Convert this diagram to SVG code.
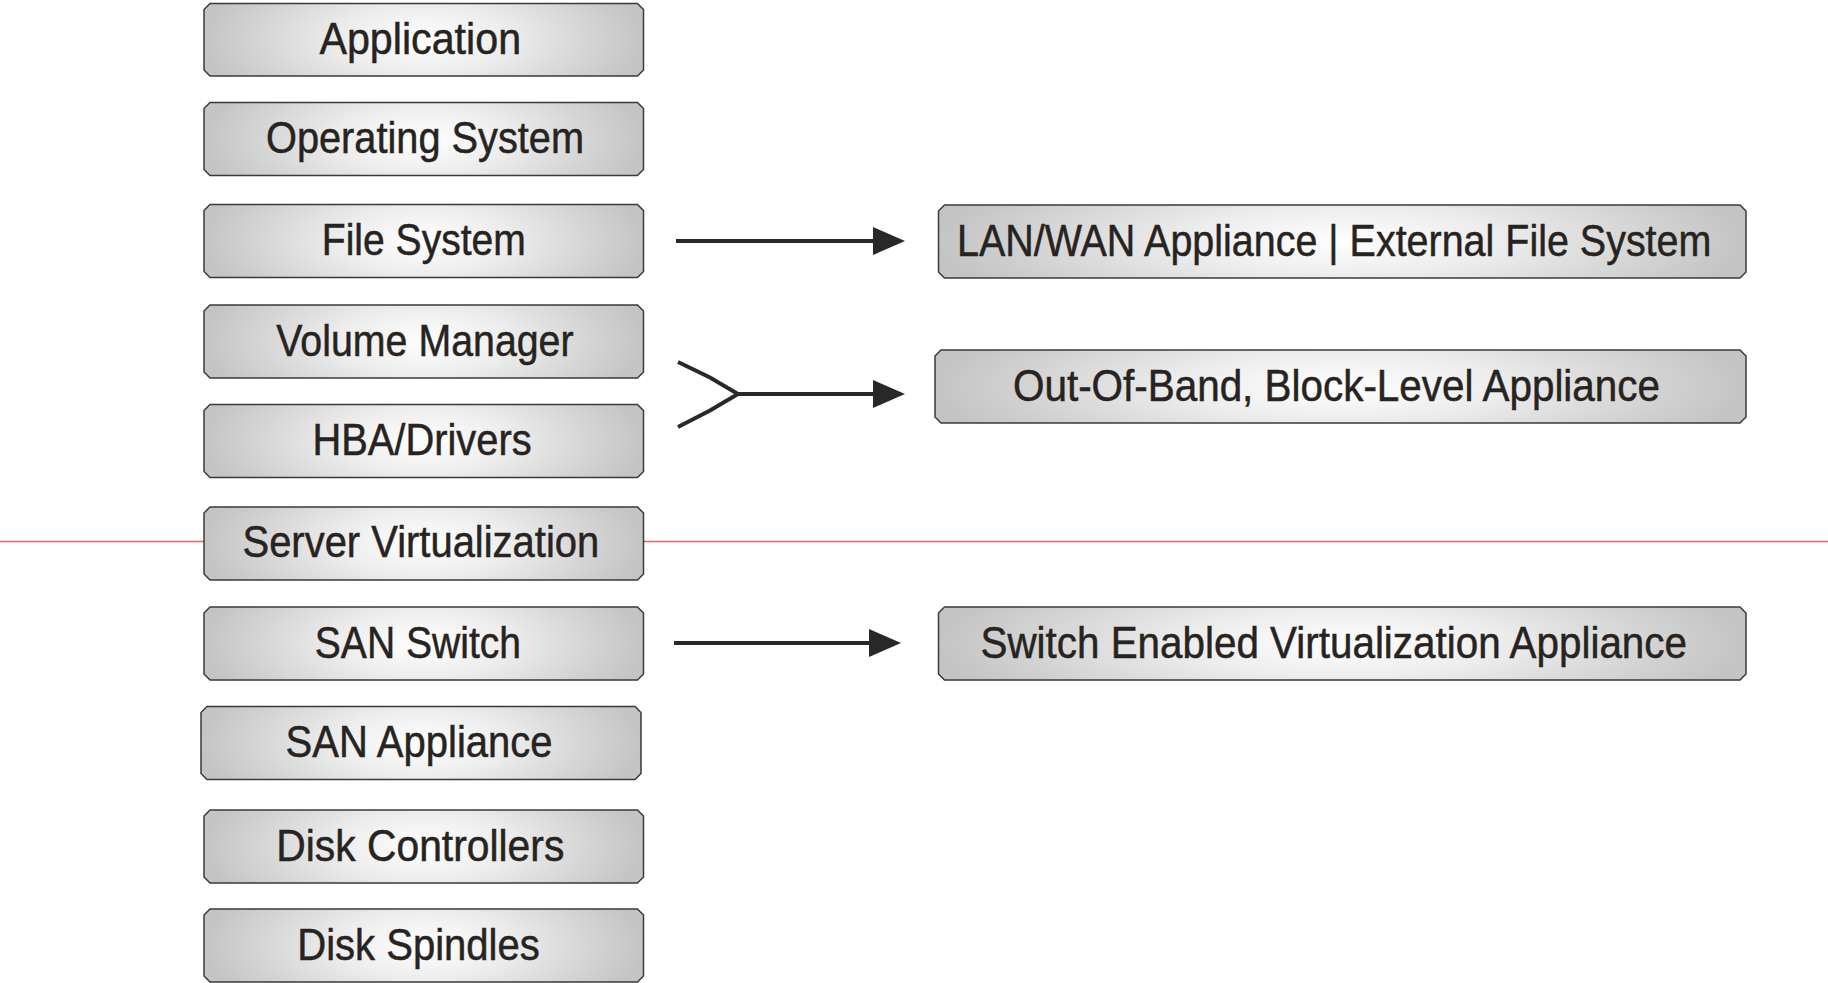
<svg xmlns="http://www.w3.org/2000/svg" width="1828" height="983" viewBox="0 0 1828 983">
  <defs>
    <radialGradient id="shine" cx="0.5" cy="0.5" r="0.5" gradientTransform="translate(0.5,0.5) scale(1,2.4) translate(-0.5,-0.5)">
      <stop offset="0" stop-color="#ffffff"/>
      <stop offset="0.4" stop-color="#ececec"/>
      <stop offset="1" stop-color="#c4c4c4"/>
    </radialGradient>
    <marker id="head" markerWidth="8" markerHeight="7" refX="4.25" refY="3.5" orient="auto" markerUnits="strokeWidth">
      <path d="M0,0 L8,3.5 L0,7 Z" fill="#2a2826"/>
    </marker>
  </defs>
  <style>
    .box { fill: url(#shine); stroke: #3a3a3a; stroke-width: 1.5; }
    .lbl { font-family: "Liberation Sans", Arial, sans-serif; font-size: 44px; fill: #262321; stroke: #262321; stroke-width: 0.5; }
    .wire { fill: none; stroke: #2a2826; stroke-width: 4; }
    .guide { stroke: #e0606e; stroke-width: 1.3; }
  </style>

  <rect width="1828" height="983" fill="#ffffff"/>

  <!-- horizontal guide line behind the stack -->
  <line class="guide" x1="0" y1="541.5" x2="1828" y2="541.5"/>

  <!-- left stack -->
  <g id="application">
    <path class="box" d="M210,3.5 H637.5 L643.5,9.5 V70 L637.5,76 H210 L204,70 V9.5 Z"/>
    <text class="lbl" x="319.4" y="54" textLength="201.7" lengthAdjust="spacingAndGlyphs">Application</text>
  </g>
  <g id="operating-system">
    <path class="box" d="M210,102.5 H637.5 L643.5,108.5 V169.5 L637.5,175.5 H210 L204,169.5 V108.5 Z"/>
    <text class="lbl" x="266" y="153" textLength="318" lengthAdjust="spacingAndGlyphs">Operating System</text>
  </g>
  <g id="file-system">
    <path class="box" d="M210,204.5 H637.5 L643.5,210.5 V271.5 L637.5,277.5 H210 L204,271.5 V210.5 Z"/>
    <text class="lbl" x="321.8" y="255" textLength="204" lengthAdjust="spacingAndGlyphs">File System</text>
  </g>
  <g id="volume-manager">
    <path class="box" d="M210,305 H637.5 L643.5,311 V372 L637.5,378 H210 L204,372 V311 Z"/>
    <text class="lbl" x="276.3" y="355.5" textLength="297.3" lengthAdjust="spacingAndGlyphs">Volume Manager</text>
  </g>
  <g id="hba-drivers">
    <path class="box" d="M210,404.5 H637.5 L643.5,410.5 V471.5 L637.5,477.5 H210 L204,471.5 V410.5 Z"/>
    <text class="lbl" x="312.4" y="455" textLength="219.2" lengthAdjust="spacingAndGlyphs">HBA/Drivers</text>
  </g>
  <g id="server-virtualization">
    <path class="box" d="M210,507 H637.5 L643.5,513 V574 L637.5,580 H210 L204,574 V513 Z"/>
    <text class="lbl" x="242.5" y="557" textLength="356.7" lengthAdjust="spacingAndGlyphs">Server Virtualization</text>
  </g>
  <g id="san-switch">
    <path class="box" d="M210,607 H637.5 L643.5,613 V674 L637.5,680 H210 L204,674 V613 Z"/>
    <text class="lbl" x="314.8" y="657.5" textLength="206.3" lengthAdjust="spacingAndGlyphs">SAN Switch</text>
  </g>
  <g id="san-appliance">
    <path class="box" d="M207,706.5 H635 L641,712.5 V773.5 L635,779.5 H207 L201,773.5 V712.5 Z"/>
    <text class="lbl" x="285.6" y="757" textLength="267" lengthAdjust="spacingAndGlyphs">SAN Appliance</text>
  </g>
  <g id="disk-controllers">
    <path class="box" d="M210,810 H637.5 L643.5,816 V877 L637.5,883 H210 L204,877 V816 Z"/>
    <text class="lbl" x="276.3" y="860.5" textLength="288" lengthAdjust="spacingAndGlyphs">Disk Controllers</text>
  </g>
  <g id="disk-spindles">
    <path class="box" d="M210,909 H637.5 L643.5,915 V976 L637.5,982 H210 L204,976 V915 Z"/>
    <text class="lbl" x="297.3" y="959.5" textLength="242.5" lengthAdjust="spacingAndGlyphs">Disk Spindles</text>
  </g>

  <!-- right column -->
  <g id="external-file-system">
    <path class="box" d="M944.5,205 H1740 L1746,211 V272 L1740,278 H944.5 L938.5,272 V211 Z"/>
    <text class="lbl" x="957" y="255.5" textLength="754.4" lengthAdjust="spacingAndGlyphs">LAN/WAN Appliance | External File System</text>
  </g>
  <g id="block-level-appliance">
    <path class="box" d="M941,350 H1740 L1746,356 V417 L1740,423 H941 L935,417 V356 Z"/>
    <text class="lbl" x="1013" y="400.5" textLength="647" lengthAdjust="spacingAndGlyphs">Out-Of-Band, Block-Level Appliance</text>
  </g>
  <g id="switch-virtualization-appliance">
    <path class="box" d="M944.5,607 H1740 L1746,613 V674 L1740,680 H944.5 L938.5,674 V613 Z"/>
    <text class="lbl" x="980.5" y="657.5" textLength="706.5" lengthAdjust="spacingAndGlyphs">Switch Enabled Virtualization Appliance</text>
  </g>

  <!-- connectors -->
  <g id="connectors">
    <line class="wire" x1="676" y1="241" x2="890" y2="241" marker-end="url(#head)"/>
    <path class="wire" d="M678,362 L710,377.5 L738,394 L710,410.5 L678,427"/>
    <line class="wire" x1="738" y1="394" x2="890" y2="394" marker-end="url(#head)"/>
    <line class="wire" x1="674" y1="643" x2="886" y2="643" marker-end="url(#head)"/>
  </g>
</svg>
